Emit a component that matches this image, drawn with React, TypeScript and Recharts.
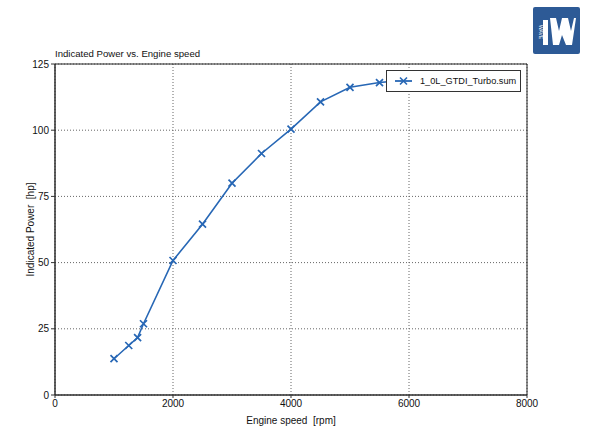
import { LineChart, Line, XAxis, YAxis, CartesianGrid, ReferenceArea, Legend } from "recharts";

const rpm = [1000, 1250, 1400, 1500, 2000, 2500, 3000, 3500, 4000, 4500, 5000, 5500, 6000];
const power = [13.7, 18.7, 21.7, 26.9, 50.8, 64.5, 80.0, 91.2, 100.4, 110.7, 116.2, 118.0, 119.0];
const xTicks = [0, 2000, 4000, 6000, 8000];
const yTicks = [0, 25, 50, 75, 100, 125];
const seriesName = "1_0L_GTDI_Turbo.sum";

const data = rpm.map((r, i) => ({ rpm: r, power: power[i] }));

const BLUE = "#2767b5";
const FONT = "'Liberation Sans', Arial, sans-serif";
const NB = "\u00a0";

function Cross(props: any) {
  const { cx, cy, index } = props;
  if (cx == null || cy == null) return <g key={`d${index}`} />;
  const s = 3.5;
  return (
    <path
      key={`d${index}`}
      d={`M${cx - s},${cy - s}L${cx + s},${cy + s}M${cx - s},${cy + s}L${cx + s},${cy - s}`}
      stroke={BLUE}
      strokeWidth={1.7}
      fill="none"
    />
  );
}

function LegendBox() {
  return (
    <div
      style={{
        display: "flex",
        alignItems: "center",
        border: "1px solid #333",
        background: "#fff",
        padding: "5px 4px 5px 8px",
        fontFamily: FONT,
        fontSize: 9.2,
        color: "#111",
        whiteSpace: "nowrap",
      }}
    >
      <svg width={17} height={10} style={{ marginRight: 8 }}>
        <line x1={0} y1={5} x2={17} y2={5} stroke={BLUE} strokeWidth={1.8} />
        <path d="M5,1.5L12,8.5M5,8.5L12,1.5" stroke={BLUE} strokeWidth={1.6} />
      </svg>
      {seriesName}
    </div>
  );
}

function Logo() {
  return (
    <svg width={47} height={47} style={{ position: "absolute", left: 533, top: 7 }}>
      <rect x={0} y={0} width={47} height={47} rx={2} fill="#2d5a96" />
      <rect x={10} y={13} width={5} height={25} fill="#fff" />
      <polygon points="17,11 23,11 26,24 29,11 35,11 38,24 41,11 43,11 39,38 33,38 29,28 26,38 20,38" fill="#fff" />
      <text x={6} y={25} fill="#fff" fontSize={5} fontFamily={FONT} textAnchor="middle" transform="rotate(90 6 25)">
        WAVE
      </text>
    </svg>
  );
}

export default function App() {
  return (
    <div style={{ position: "absolute", left: 0, top: 0, width: 600, height: 426, background: "#fff" }}>
      <div style={{ position: "absolute", left: 55, top: 48, fontFamily: FONT, fontSize: 9.6, color: "#111" }}>
        Indicated Power vs. Engine speed
      </div>
      <Logo />
      <LineChart
        width={600}
        height={426}
        data={data}
        margin={{ top: 64, right: 73, bottom: 0, left: 15 }}
        style={{ fontFamily: FONT }}
      >
        <CartesianGrid stroke="#666" strokeDasharray="1 2" />
        <XAxis
          dataKey="rpm"
          type="number"
          domain={[0, 8000]}
          ticks={xTicks}
          height={31}
          tick={{ fontSize: 10, fill: "#111" }}
          tickSize={3}
          axisLine={{ stroke: "#333" }}
          tickLine={{ stroke: "#333" }}
          label={{ value: `Engine speed${NB}${NB}[rpm]`, position: "insideBottom", offset: 2, fontSize: 10, fill: "#111" }}
        />
        <YAxis
          type="number"
          domain={[0, 125]}
          ticks={yTicks}
          width={40}
          tick={{ fontSize: 10, fill: "#111" }}
          tickSize={4}
          axisLine={{ stroke: "#333" }}
          tickLine={{ stroke: "#333" }}
          label={{ value: `Indicated Power${NB}${NB}[hp]`, angle: -90, position: "insideLeft", offset: 15, fontSize: 10, fill: "#111", style: { textAnchor: "middle" } }}
        />
        <ReferenceArea x1={0} x2={8000} y1={0} y2={125} fill="none" stroke="#222" strokeWidth={1} ifOverflow="visible" />
        <Line
          type="linear"
          dataKey="power"
          name={seriesName}
          stroke={BLUE}
          strokeWidth={1.6}
          dot={Cross}
          activeDot={false}
          isAnimationActive={false}
        />
        <Legend
          layout="horizontal"
          verticalAlign="middle"
          align="center"
          content={() => <LegendBox />}
          wrapperStyle={{ position: "absolute", left: 386, top: 70, width: "auto" }}
        />
      </LineChart>
    </div>
  );
}
